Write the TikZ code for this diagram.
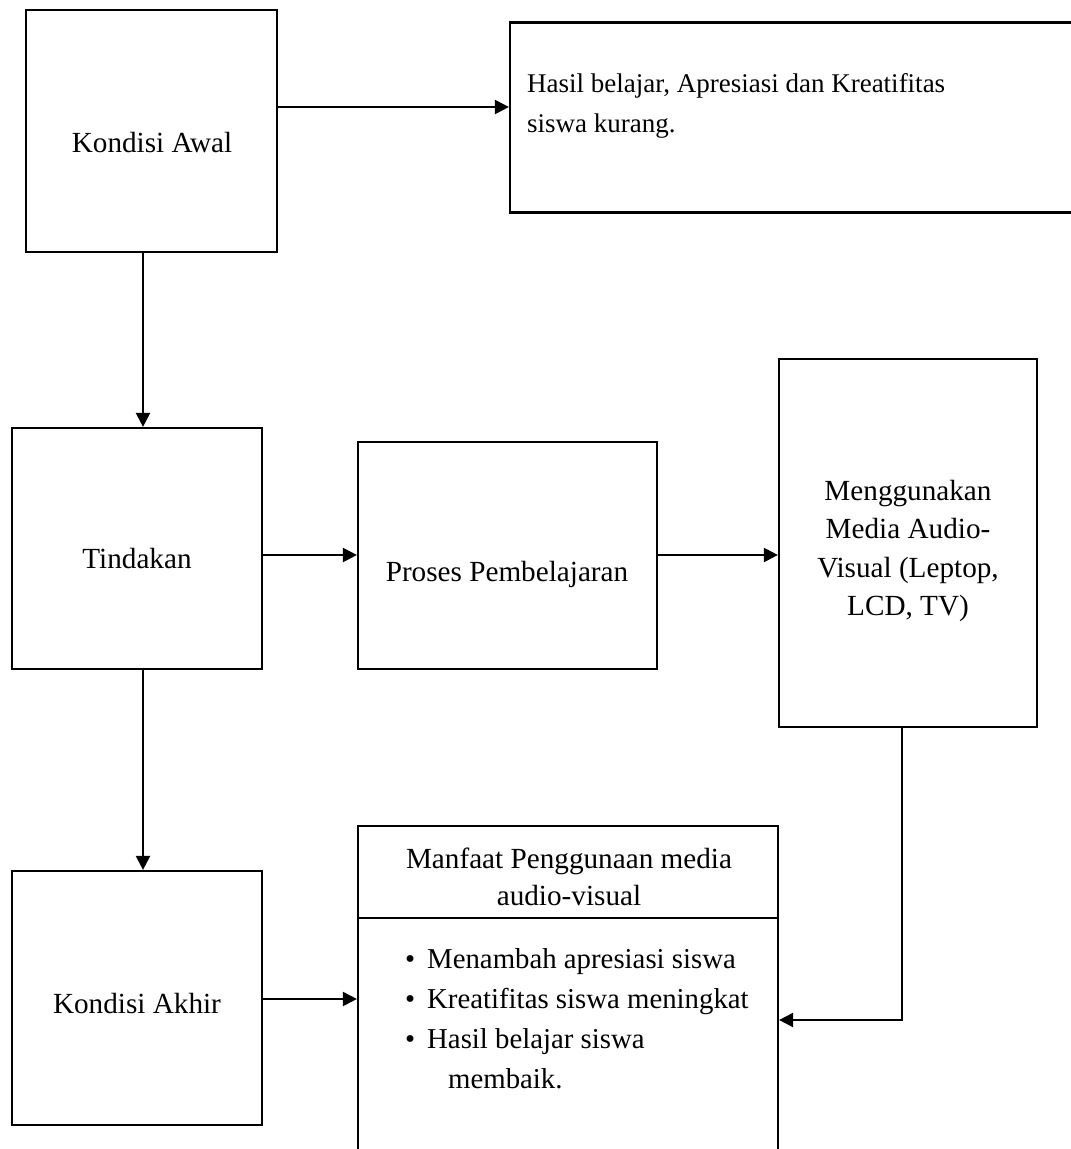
\documentclass[tikz,border=0pt]{standalone}
\usepackage{fontspec}
\setmainfont{Liberation Serif}
\usetikzlibrary{arrows.meta}
\begin{document}
\begin{tikzpicture}[x=1pt,y=-1pt,
  box/.style={draw,line width=2.2pt,rectangle,inner sep=0pt},
  arr/.style={line width=2.2pt,-{Triangle[length=14pt,width=14pt]}},
  txt/.style={font=\fontsize{29.2}{38.5}\selectfont,inner sep=0pt},
]
\useasboundingbox[fill=white] (0,0) rectangle (1071,1149);
% boxes
\node[box,minimum width=251pt,minimum height=242pt] (ka) at (151.5,131) {};
\node[box,minimum width=575pt,minimum height=190pt] (hasil) at (797.5,117.5) {};
\node[box,minimum width=250pt,minimum height=241pt] (tin) at (137,548.5) {};
\node[box,minimum width=299pt,minimum height=227pt] (pros) at (507.5,555.5) {};
\node[box,minimum width=258pt,minimum height=368pt] (meng) at (908,543) {};
\node[box,minimum width=250pt,minimum height=254pt] (akh) at (137,998) {};
\node[box,minimum width=420pt,minimum height=339pt] (manf) at (568,995.5) {};
\coordinate (divl) at (358,918);
\coordinate (divr) at (778,918);
\draw[line width=2.2pt] (divl) -- (divr);
% texts
\node[txt] (tka) at (152,143) {Kondisi Awal};
\node[txt,anchor=north west,align=left,font=\fontsize{27}{40}\selectfont] (thasil) at (527,73) {Hasil belajar, Apresiasi dan Kreatifitas\\siswa kurang.};
\node[txt] (ttin) at (137,559) {Tindakan};
\node[txt] (tpros) at (507,574) {Proses Pembelajaran};
\node[txt,align=center] (tmeng) at (908,551) {Menggunakan\\Media Audio-\\Visual (Leptop,\\LCD, TV)};
\node[txt,align=center,font=\fontsize{29.2}{37}\selectfont] (tmanf) at (569,877) {Manfaat Penggunaan media\\audio-visual};
\node[txt,anchor=north west,align=left,font=\fontsize{28.8}{40}\selectfont] (tlist) at (405,948)
 {\makebox[22pt][l]{\textbullet}Menambah apresiasi siswa\\
  \makebox[22pt][l]{\textbullet}Kreatifitas siswa meningkat\\
  \makebox[22pt][l]{\textbullet}Hasil belajar siswa\\
  \hspace{43pt}membaik.};
\node[txt] (takh) at (137,1003) {Kondisi Akhir};
% connectors
\draw[arr] (ka.east |- 0,107) -- (hasil.west |- 0,107);
\draw[arr] (ka.south -| 143,0) -- (tin.north -| 143,0);
\draw[arr] (tin.east |- 0,555) -- (pros.west |- 0,555);
\draw[arr] (pros.east |- 0,555) -- (meng.west |- 0,555);
\draw[arr] (tin.south -| 143,0) -- (akh.north -| 143,0);
\draw[arr] (akh.east |- 0,999) -- (manf.west |- 0,999);
\coordinate (bend) at (902,1020);
\draw[arr] (meng.south -| bend) -- (bend) -- (manf.east |- bend);
\end{tikzpicture}
\end{document}
